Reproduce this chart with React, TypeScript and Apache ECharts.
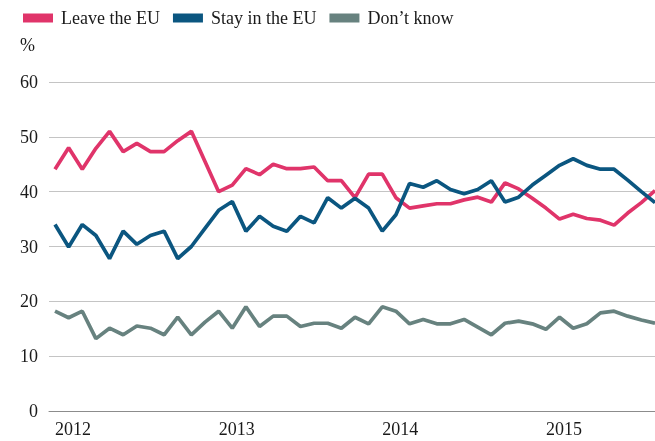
import React, { useEffect, useRef } from "react";
import * as echarts from "echarts";

const years = ["2012", "2013", "2014", "2015"];
const months: string[] = [];
for (const y of years) for (let m = 1; m <= 12; m++) months.push(`${y}-${String(m).padStart(2, "0")}`);
const monthLabels = months.slice(0, 45);

const leave = [44.1, 48.0, 44.1, 47.9, 51.0, 47.3, 48.8, 47.3, 47.3, 49.3, 51.0, 45.5, 40.0, 41.2, 44.2, 43.1, 45.0, 44.2, 44.2, 44.5, 42.0, 42.0, 38.9, 43.2, 43.2, 38.9, 37.0, 37.4, 37.8, 37.8, 38.5, 39.0, 38.1, 41.6, 40.5, 38.8, 37.0, 35.0, 35.9, 35.1, 34.8, 33.9, 36.1, 38.0, 40.2];
const stay = [34.0, 29.9, 34.0, 32.0, 27.8, 32.8, 30.4, 32.0, 32.8, 27.8, 30.0, 33.3, 36.6, 38.2, 32.8, 35.5, 33.7, 32.8, 35.5, 34.3, 38.9, 37.0, 38.8, 37.0, 32.8, 35.8, 41.5, 40.8, 42.0, 40.4, 39.6, 40.4, 42.0, 38.1, 39.0, 41.2, 43.0, 44.8, 46.0, 44.8, 44.1, 44.1, 42.1, 40.0, 38.0];
const dontKnow = [18.2, 17.0, 18.2, 13.2, 15.1, 13.9, 15.5, 15.1, 13.9, 17.1, 13.9, 16.2, 18.2, 15.1, 19.0, 15.4, 17.3, 17.3, 15.4, 16.0, 16.0, 15.1, 17.1, 15.9, 19.0, 18.2, 15.9, 16.7, 15.9, 15.9, 16.7, 15.3, 13.9, 16.0, 16.4, 15.9, 14.9, 17.1, 15.1, 15.9, 17.9, 18.2, 17.3, 16.6, 16.0];
const yearTicks = [0, 12, 24, 36];
const seriesNames = ["Leave the EU", "Stay in the EU", "Don\u2019t know"];

const FONT = "Liberation Serif";

export default function App() {
  const ref = useRef<HTMLDivElement>(null);
  useEffect(() => {
    if (!ref.current) return;
    const chart = echarts.init(ref.current, undefined, { renderer: "svg" });
    const toPairs = (arr: number[]) => arr.map((v, i) => [i, v]);
    chart.setOption({
      animation: false,
      grid: { left: 49, right: 0, top: 82, bottom: 30, containLabel: false },
      legend: {
        left: 18,
        top: 4,
        itemWidth: 30,
        itemHeight: 9,
        itemGap: 13,
        icon: "rect",
        data: seriesNames,
        textStyle: { fontFamily: FONT, fontSize: 18, color: "#1a1a1a", padding: [0, 0, 0, 3] },
      },
      graphic: [
        {
          type: "text",
          left: 20,
          top: 36,
          style: { text: "%", fontFamily: FONT, fontSize: 18, fill: "#1a1a1a" },
        },
      ],
      xAxis: {
        type: "value",
        min: -0.44,
        max: 44,
        axisLine: { show: true, lineStyle: { color: "#8c8c8c", width: 1 } },
        axisTick: { show: false },
        splitLine: { show: false },
        axisLabel: {
          customValues: yearTicks,
          formatter: (v: number) => monthLabels[Math.round(v)]?.slice(0, 4) ?? "",
          align: "left",
          margin: 9,
          fontFamily: FONT,
          fontSize: 18,
          color: "#1a1a1a",
        },
      },
      yAxis: {
        type: "value",
        min: 0,
        max: 60,
        interval: 10,
        axisLine: { show: false },
        axisTick: { show: false },
        splitLine: { show: true, lineStyle: { color: "#c4c4c4", width: 1 } },
        axisLabel: { margin: 11, fontFamily: FONT, fontSize: 18, color: "#1a1a1a" },
      },
      series: [
        { name: seriesNames[0], type: "line", data: toPairs(leave), symbol: "none", color: "#e0346a", lineStyle: { width: 3.7, color: "#e0346a" } },
        { name: seriesNames[1], type: "line", data: toPairs(stay), symbol: "none", color: "#0b5680", lineStyle: { width: 3.7, color: "#0b5680" } },
        { name: seriesNames[2], type: "line", data: toPairs(dontKnow), symbol: "none", color: "#67827f", lineStyle: { width: 3.7, color: "#67827f" } },
      ],
    });
    return () => chart.dispose();
  }, []);
  return <div ref={ref} style={{ position: "fixed", left: 0, top: 0, width: 655, height: 441 }} />;
}
